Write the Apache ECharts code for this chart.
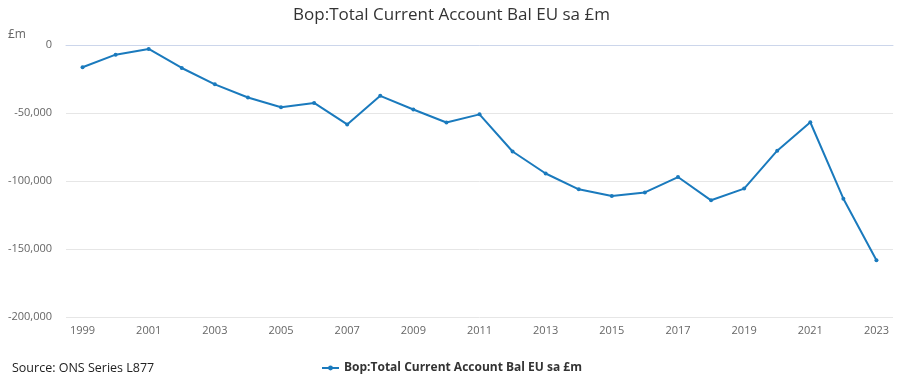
<!DOCTYPE html>
<html>
<head>
<meta charset="utf-8">
<script src="https://cdn.jsdelivr.net/npm/echarts@6/dist/echarts.min.js"></script>
<style>
html,body{margin:0;padding:0;background:#fff;}
#c{width:903px;height:385px;}
</style>
</head>
<body>
<div id="c"></div>
<script>
var years = ['1999','2000','2001','2002','2003','2004','2005','2006','2007','2008','2009','2010','2011','2012','2013','2014','2015','2016','2017','2018','2019','2020','2021','2022','2023'];
var values = [-16400,-7100,-2900,-16900,-28900,-38600,-45800,-42600,-58400,-37400,-47400,-57000,-51000,-78300,-94500,-106100,-111000,-108400,-97100,-114200,-105600,-77700,-56800,-113000,-158300];
var seriesName = 'Bop:Total Current Account Bal EU sa £m';
var titleText = 'Bop:Total Current Account Bal EU sa £m';
var sourceText = 'Source: ONS Series L877';
var unitText = '£m';

var chart = echarts.init(document.getElementById('c'));
var font = '"Open Sans", "Noto Sans", sans-serif';
chart.setOption({
  animation: false,
  textStyle: {fontFamily: font},
  title: [{
    text: titleText, left: 'center', top: 2,
    textStyle: {fontFamily: font, fontSize: 17, fontWeight: 'normal', color: '#333'}
  }, {
    text: unitText, left: 3, top: 24,
    textStyle: {fontFamily: font, fontSize: 12, fontWeight: 'normal', color: '#666'}
  }, {
    text: sourceText, left: 7, top: 357,
    textStyle: {fontFamily: font, fontSize: 12.5, fontWeight: 'normal', color: '#222'}
  }],
  legend: {
    data: [{name: seriesName, itemStyle: {color: '#1a7abd'}}], left: 'center', top: 357,
    itemWidth: 17, itemHeight: 6, itemGap: 4,
    textStyle: {fontFamily: font, fontSize: 12, fontWeight: 'bold', color: '#333'}
  },
  grid: {left: 66, right: 10, top: 45, bottom: 68, containLabel: false},
  xAxis: {
    type: 'category', data: years, boundaryGap: true,
    axisLine: {lineStyle: {color: '#ccd6eb'}},
    axisTick: {alignWithLabel: true, interval: 1, length: 8, lineStyle: {color: '#ccd6eb'}},
    axisLabel: {interval: 1, color: '#666', fontSize: 11, margin: 8, fontFamily: font},
    splitLine: {show: false}
  },
  yAxis: {
    type: 'value', min: -200000, max: 0, interval: 50000,
    axisLine: {show: false}, axisTick: {show: false},
    axisLabel: {color: '#666', fontSize: 11, margin: 14, fontFamily: font,
      formatter: function(v){ return v === 0 ? '0' : v.toLocaleString('en-GB'); }},
    splitLine: {lineStyle: {color: '#e6e6e6'}}
  },
  series: [{
    name: seriesName, type: 'line', data: values,
    symbol: 'circle', symbolSize: 4, showSymbol: true,
    lineStyle: {width: 2, color: '#1a7abd'},
    itemStyle: {color: '#1a7abd'}
  }]
});
</script>
</body>
</html>
